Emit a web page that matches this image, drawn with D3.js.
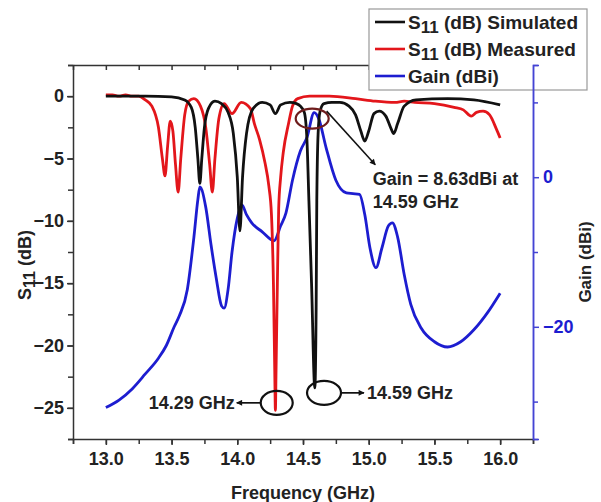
<!DOCTYPE html>
<html>
<head>
<meta charset="utf-8">
<script src="https://cdn.jsdelivr.net/npm/d3@7"></script>
<style>
    body { margin: 0; background: #fff; }
    svg { display: block; font-family: "Liberation Sans", Arial, sans-serif; font-weight: bold; }
</style>
</head>
<body>
<svg id="chart" width="601" height="502"></svg>
<script>
// frequency (GHz) / S11 (dB), simulated
const simFreq = [13.00, 13.30, 13.50, 13.60, 13.65, 13.68, 13.70, 13.715, 13.73, 13.75, 13.78, 13.83, 13.88, 13.93, 13.97,
    14.00, 14.02, 14.04, 14.07, 14.12, 14.19, 14.25, 14.29, 14.33, 14.40, 14.45, 14.48, 14.51, 14.53, 14.545, 14.565,
    14.59, 14.60, 14.605, 14.615, 14.63, 14.66, 14.72, 14.78, 14.85, 14.90, 14.94, 14.97, 15.00, 15.04, 15.08, 15.13,
    15.17, 15.19, 15.22, 15.27, 15.36, 15.60, 15.80, 16.00];
const simS11 = [0, 0, -0.05, -0.3, -0.9, -2.5, -5.0, -7.0, -5.0, -2.5, -1.0, -0.4, -0.6, -1.3, -3.0,
    -6.5, -10.8, -6.5, -3.0, -1.0, -0.5, -0.7, -1.4, -0.7, -0.5, -0.6, -0.8, -1.3, -3.5, -8.4, -15,
    -23.4, -17, -8.4, -3.0, -1.2, -0.6, -0.5, -0.5, -0.8, -1.5, -2.8, -3.6, -2.8, -1.4, -1.2, -1.6,
    -2.6, -3.0, -2.2, -0.8, -0.3, -0.2, -0.3, -0.7];

// frequency (GHz) / S11 (dB), measured
const measFreq = [13.00, 13.05, 13.10, 13.15, 13.20, 13.25, 13.30, 13.35, 13.40, 13.43, 13.45, 13.47, 13.49, 13.51,
    13.53, 13.55, 13.57, 13.60, 13.63, 13.67, 13.72, 13.76, 13.79, 13.81, 13.83, 13.86, 13.90, 13.96, 14.03, 14.10,
    14.13, 14.17, 14.21, 14.24, 14.26, 14.275, 14.285, 14.29, 14.295, 14.305, 14.315, 14.33, 14.35, 14.39, 14.42,
    14.46, 14.55, 14.70, 14.90, 15.05, 15.20, 15.27, 15.35, 15.50, 15.65, 15.72, 15.78, 15.82, 15.87, 15.92, 15.97, 16.00];
const measS11 = [0.1, 0.1, 0.0, 0.1, 0.0, 0.0, -0.3, -0.8, -2.5, -5.0, -6.4, -4.0, -2.0, -2.8,
    -5.5, -7.7, -5.0, -1.5, -0.4, -0.2, -0.8, -2.5, -5.5, -7.7, -5.0, -1.8, -0.6, -1.4, -0.5, -1.0,
    -2.2, -3.5, -5.3, -7.2, -9.5, -15, -22, -25.2, -22, -15, -9, -6.5, -4.5, -2.2, -0.8,
    -0.2, 0.0, 0.0, -0.2, -0.4, -0.5, -0.4, -0.5, -0.6, -0.9, -1.1, -1.6, -1.3, -1.2, -1.5, -2.6, -3.35];

// frequency (GHz) / gain (dBi)
const gainFreq = [13.00, 13.10, 13.20, 13.30, 13.40, 13.46, 13.52, 13.56, 13.62, 13.67, 13.70, 13.715, 13.76, 13.80,
    13.84, 13.88, 13.90, 13.93, 13.96, 14.00, 14.035, 14.07, 14.11, 14.19, 14.28, 14.33, 14.37, 14.42, 14.48, 14.53,
    14.585, 14.62, 14.675, 14.75, 14.83, 14.88, 14.93, 14.97, 15.01, 15.055, 15.10, 15.15, 15.18, 15.22, 15.27, 15.32,
    15.40, 15.50, 15.60, 15.70, 15.80, 15.90, 16.00];
const gainDbi = [-30.8, -29.8, -28.3, -26.3, -24.2, -22.5, -20, -18.5, -15, -8, -3, -1.3, -4, -9,
    -13.5, -17.2, -17.5, -15, -10, -5.5, -3.7, -5.0, -6.1, -7.3, -8.5, -6.5, -4.8, -0.4, 3.5, 5.3,
    8.63, 7.8, 4, -0.4, -2.1, -2.2, -2.3, -5, -9.5, -12.1, -9.5, -6.5, -6.1, -8, -13, -17,
    -20.2, -22, -22.7, -22, -20.4, -18.2, -15.5];

const xTicks = [13.0, 13.5, 14.0, 14.5, 15.0, 15.5, 16.0];
const leftTicks = [0, -5, -10, -15, -20, -25];
const rightTicks = [0, -20];

const legendItems = [
    { label: "S", sub: "11", rest: " (dB) Simulated", color: "#111" },
    { label: "S", sub: "11", rest: " (dB) Measured", color: "#e3161b" },
    { label: "Gain (dBi)", sub: "", rest: "", color: "#1d1dd0" }
];

const svg = d3.select("#chart");
const margin = { left: 73, right: 533, top: 65, bottom: 439 };
const fontSize = 18;

const x = d3.scaleLinear().domain([12.75, 16.25]).range([margin.left, margin.right]);
const yL = d3.scaleLinear().domain([-27.5, 2.5]).range([margin.bottom, margin.top]);
const yR = d3.scaleLinear().domain([-35, 15]).range([margin.bottom, margin.top]);

const axisColor = "#333";
const gainAxisColor = "#4444d4";

function minorTicks(domain, step) {
    const out = [];
    for (let v = domain[0]; v <= domain[1] + 1e-9; v += step) out.push(+v.toFixed(3));
    return out;
}

function styleAxis(g, color) {
    g.select(".domain").attr("stroke", color).attr("stroke-width", 1.5);
    g.selectAll(".tick line").attr("stroke", color).attr("stroke-width", 1.5);
    g.selectAll(".tick text").attr("fill", "#222").attr("font-size", fontSize).attr("font-weight", "bold")
        .attr("font-family", "Liberation Sans, Arial, sans-serif");
}

// bottom axis
const xMinor = minorTicks([12.75, 16.25], 0.25);
svg.append("g").attr("transform", `translate(0,${margin.bottom})`)
    .call(d3.axisBottom(x).tickValues(xMinor).tickSize(5).tickFormat(""))
    .call(g => styleAxis(g, axisColor));
svg.append("g").attr("transform", `translate(0,${margin.bottom})`)
    .call(d3.axisBottom(x).tickValues(xTicks).tickSize(6).tickPadding(7).tickFormat(d3.format(".1f")))
    .call(g => styleAxis(g, axisColor))
    .call(g => g.select(".domain").remove());

// top axis, ticks pointing inward
svg.append("g").attr("transform", `translate(0,${margin.top})`)
    .call(d3.axisTop(x).tickValues(xMinor).tickSizeInner(-5).tickSizeOuter(0).tickFormat(""))
    .call(g => styleAxis(g, axisColor));

// left axis
const yMinor = minorTicks([-27.5, 2.5], 2.5);
svg.append("g").attr("transform", `translate(${margin.left},0)`)
    .call(d3.axisLeft(yL).tickValues(yMinor).tickSize(5).tickFormat(""))
    .call(g => styleAxis(g, axisColor));
svg.append("g").attr("transform", `translate(${margin.left},0)`)
    .call(d3.axisLeft(yL).tickValues(leftTicks).tickSize(6).tickPadding(3).tickFormat(d3.format("d")))
    .call(g => styleAxis(g, axisColor))
    .call(g => g.select(".domain").remove());

// curves
const plot = svg.append("g");
function drawSeries(xs, ys, yScale, color) {
    const line = d3.line()
        .x((d, i) => x(xs[i]))
        .y((d) => yScale(d))
        .curve(d3.curveMonotoneX);
    plot.append("path")
        .attr("d", line(ys))
        .attr("fill", "none")
        .attr("stroke", color)
        .attr("stroke-width", 2.8)
        .attr("stroke-linejoin", "round");
}
drawSeries(gainFreq, gainDbi, yR, legendItems[2].color);
drawSeries(measFreq, measS11, yL, legendItems[1].color);
drawSeries(simFreq, simS11, yL, legendItems[0].color);

// arrow markers
const defs = svg.append("defs");
defs.append("marker")
    .attr("id", "arrow")
    .attr("viewBox", "0 0 10 10")
    .attr("refX", 9).attr("refY", 5)
    .attr("markerWidth", 8).attr("markerHeight", 6)
    .attr("markerUnits", "userSpaceOnUse")
    .attr("orient", "auto")
    .append("path").attr("d", "M0,0L10,5L0,10z").attr("fill", "#111");

const ann = svg.append("g").attr("font-size", fontSize).attr("fill", "#222");

// peak gain marker
ann.append("ellipse")
    .attr("cx", x(14.57)).attr("cy", yL(-1.8))
    .attr("rx", 16.5).attr("ry", 10)
    .attr("fill", "none").attr("stroke", "#6e1c1c").attr("stroke-width", 2.2);
ann.append("line")
    .attr("x1", x(14.68)).attr("y1", yL(-1.2))
    .attr("x2", x(15.05)).attr("y2", yL(-5.5))
    .attr("stroke", "#111").attr("stroke-width", 1.5).attr("marker-end", "url(#arrow)");
ann.append("text").attr("x", x(15.03)).attr("y", yL(-7.1)).text("Gain = 8.63dBi at");
ann.append("text").attr("x", x(15.03)).attr("y", yL(-9.0)).text("14.59 GHz");

// measured resonance
ann.append("ellipse")
    .attr("cx", x(14.30)).attr("cy", yL(-24.6))
    .attr("rx", 16).attr("ry", 12)
    .attr("fill", "none").attr("stroke", "#111").attr("stroke-width", 2.2);
ann.append("line")
    .attr("x1", x(14.30) - 16).attr("y1", yL(-24.6))
    .attr("x2", x(14.30) - 40).attr("y2", yL(-24.6))
    .attr("stroke", "#111").attr("stroke-width", 1.7).attr("marker-end", "url(#arrow)");
ann.append("text").attr("x", x(14.30) - 42).attr("y", yL(-24.6)).attr("dy", "0.35em")
    .attr("text-anchor", "end").text("14.29 GHz");

// simulated resonance
ann.append("ellipse")
    .attr("cx", x(14.66)).attr("cy", yL(-23.8))
    .attr("rx", 17).attr("ry", 12)
    .attr("fill", "none").attr("stroke", "#111").attr("stroke-width", 2.2);
ann.append("line")
    .attr("x1", x(14.66) + 17).attr("y1", yL(-23.8))
    .attr("x2", x(14.66) + 40).attr("y2", yL(-23.8))
    .attr("stroke", "#111").attr("stroke-width", 1.7).attr("marker-end", "url(#arrow)");
ann.append("text").attr("x", x(14.66) + 43).attr("y", yL(-23.8)).attr("dy", "0.35em")
    .text("14.59 GHz");

// legend (white box sits over the top axis)
const legend = svg.append("g").attr("transform", "translate(369,9)");
legend.append("rect")
    .attr("width", 218).attr("height", 81)
    .attr("fill", "#fff").attr("stroke", "#999").attr("stroke-width", 1.2);
legendItems.forEach((item, i) => {
    const row = legend.append("g").attr("transform", `translate(0,${13 + i * 27})`);
    row.append("line").attr("x1", 6).attr("x2", 36)
        .attr("stroke", item.color).attr("stroke-width", 2.6);
    const t = row.append("text").attr("x", 39).attr("dy", "0.35em").attr("font-size", fontSize + 1).attr("fill", "#222");
    t.append("tspan").text(item.label);
    if (item.sub) {
        t.append("tspan").attr("font-size", fontSize - 1).attr("dy", 4).text(item.sub);
        t.append("tspan").attr("dy", -4).text(item.rest);
    }
});

// right axis (gain), drawn last so it shows through the legend box
svg.append("g").attr("transform", `translate(${margin.right},0)`)
    .call(d3.axisRight(yR).tickValues([10, -10, -30]).tickSize(5).tickFormat(""))
    .call(g => styleAxis(g, gainAxisColor));
svg.append("g").attr("transform", `translate(${margin.right},0)`)
    .call(d3.axisRight(yR).tickValues(rightTicks).tickSize(6).tickPadding(4).tickFormat(d3.format("d")))
    .call(g => styleAxis(g, gainAxisColor))
    .call(g => g.selectAll(".tick text").attr("fill", "#1d1dd0"));

// axis titles
const yTitle = svg.append("text")
    .attr("transform", "translate(31,265) rotate(-90)")
    .attr("text-anchor", "middle").attr("font-size", fontSize).attr("fill", "#222");
yTitle.append("tspan").text("S");
yTitle.append("tspan").attr("font-size", fontSize - 2).attr("dy", 4).text("11");
yTitle.append("tspan").attr("dy", -4).text(" (dB)");

svg.append("text")
    .attr("transform", "translate(591,262) rotate(-90)")
    .attr("text-anchor", "middle").attr("font-size", fontSize - 1).attr("fill", "#222")
    .text("Gain (dBi)");

svg.append("text")
    .attr("x", (margin.left + margin.right) / 2).attr("y", 499)
    .attr("text-anchor", "middle").attr("font-size", fontSize).attr("fill", "#222")
    .text("Frequency (GHz)");
</script>
</body>
</html>
